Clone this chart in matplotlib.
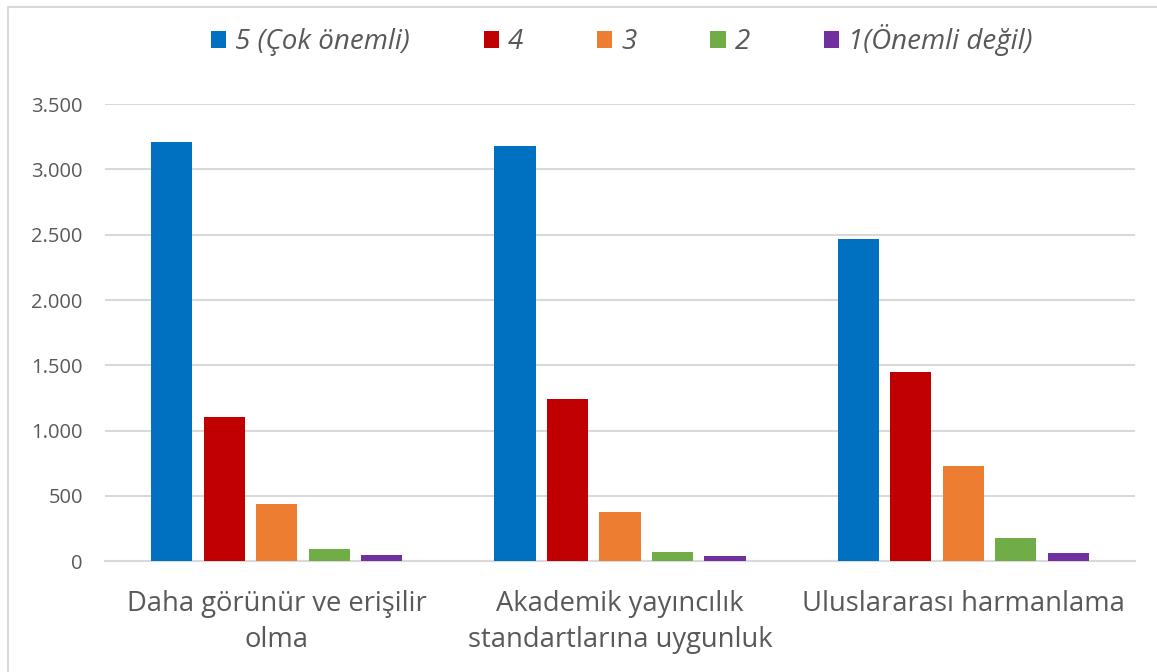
import matplotlib
matplotlib.use('Agg')
from matplotlib import pyplot as plt
from matplotlib.patches import Rectangle
from matplotlib.ticker import FuncFormatter
import numpy as np

# Chart data
categories = ['Daha görünür ve erişilir\nolma',
              'Akademik yayıncılık\nstandartlarına uygunluk',
              'Uluslararası harmanlama']
series_names = ['5 (Çok önemli)', '4', '3', '2', '1(Önemli değil)']
colors = ['#0070C0', '#C00000', '#ED7D31', '#70AD47', '#7030A0']
values = [
    [3208, 3178, 2466],   # 5
    [1103, 1240, 1447],   # 4
    [436, 375, 727],      # 3
    [92, 69, 176],        # 2
    [46, 38, 61],         # 1
]

plt.rcParams['font.family'] = ['Open Sans', 'DejaVu Sans']
text_col = '#595959'
grid_col = '#D9D9D9'

fig = plt.figure(figsize=(11.57, 6.72), dpi=100)
ax = fig.add_axes([0.0908, 0.165, 0.8902, 0.68])

# light border round the chart area
fig.patches.append(Rectangle((8 / 1157, -0.05), 1.2, 1 - 7 / 672 + 0.05,
                             transform=fig.transFigure, fill=False,
                             edgecolor=grid_col, linewidth=1.5, zorder=0))

x = np.arange(len(categories))
slot = 0.153
width = 0.12
for i, (name, vals, col) in enumerate(zip(series_names, values, colors)):
    ax.bar(x + (i - 2) * slot, vals, width, color=col, label=name, zorder=3)

ax.set_xlim(-0.5, len(categories) - 0.5)
ax.set_ylim(0, 3500)
ax.set_yticks(np.arange(0, 3501, 500))
ax.yaxis.set_major_formatter(FuncFormatter(lambda v, p: f'{int(v):,}'.replace(',', '.')))
ax.grid(axis='y', color=grid_col, linewidth=1.5, zorder=0)
for s in ['top', 'right', 'left']:
    ax.spines[s].set_visible(False)
ax.spines['bottom'].set_color(grid_col)
ax.spines['bottom'].set_linewidth(1.5)
ax.tick_params(axis='both', length=0, colors=text_col)
ax.tick_params(axis='y', labelsize=14.5, pad=16)
ax.set_xticks(x)
ax.set_xticklabels(categories, fontsize=19.7, color=text_col, linespacing=1.35)
ax.tick_params(axis='x', pad=21)

fig.legend(loc='center left', bbox_to_anchor=(211 / 1157, 0.94), ncol=5, frameon=False,
           prop={'style': 'italic', 'size': 20}, labelcolor=text_col,
           handlelength=0.55, handleheight=0.55, handletextpad=0.33,
           columnspacing=2.65, borderpad=0, borderaxespad=0)

fig.savefig('out.png', dpi=100)
